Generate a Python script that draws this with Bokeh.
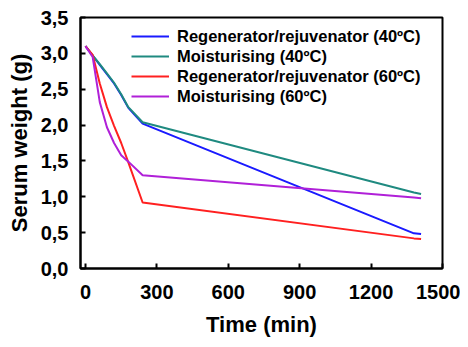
from bokeh.plotting import figure
from bokeh.models import Range1d, FixedTicker, Legend, LegendItem
from bokeh.embed import file_html
from bokeh.resources import INLINE

time = [0, 30, 60, 90, 120, 150, 180, 240, 1380, 1410]
regen40 = [3.10, 2.97, 2.84, 2.71, 2.58, 2.42, 2.24, 2.02, 0.49, 0.48]
moist40 = [3.10, 2.97, 2.85, 2.72, 2.59, 2.43, 2.25, 2.04, 1.06, 1.04]
regen60 = [3.10, 2.98, 2.58, 2.25, 1.99, 1.75, 1.48, 0.92, 0.42, 0.41]
moist60 = [3.10, 2.95, 2.32, 1.97, 1.75, 1.58, 1.49, 1.30, 0.99, 0.98]

labels = ["Regenerator/rejuvenator (40ºC)", "Moisturising (40ºC)",
          "Regenerator/rejuvenator (60ºC)", "Moisturising (60ºC)"]
colors = ["#1a1aff", "#1f8a80", "#ff2020", "#b020d8"]
series = [regen40, moist40, regen60, moist60]

x_ticks = [0, 300, 600, 900, 1200, 1500]
y_ticks = [0.0, 0.5, 1.0, 1.5, 2.0, 2.5, 3.0, 3.5]
y_tick_labels = ["0,0", "0,5", "1,0", "1,5", "2,0", "2,5", "3,0", "3,5"]

FONT = "Liberation Sans"

p = figure(width=460, height=339, output_backend="svg", toolbar_location=None,
           x_range=Range1d(-21, 1500), y_range=Range1d(0, 3.5),
           min_border_left=80, min_border_right=18, min_border_top=17,
           min_border_bottom=59)
p.background_fill_color = "white"
p.border_fill_color = "white"
p.grid.visible = False
p.outline_line_color = "black"
p.outline_line_width = 2

items = []
for ys, c, lab in zip(series, colors, labels):
    r = p.line(time, ys, line_color=c, line_width=2)
    items.append(LegendItem(label=lab, renderers=[r]))

for ax in (p.xaxis[0], p.yaxis[0]):
    ax.axis_line_color = "black"
    ax.axis_line_width = 2
    ax.major_tick_in = 5
    ax.major_tick_out = 0
    ax.major_tick_line_width = 2
    ax.minor_tick_line_color = None
    ax.major_label_text_font = FONT
    ax.major_label_text_font_style = "bold"
    ax.major_label_text_font_size = "20px"
    ax.major_label_text_color = "black"
    ax.axis_label_text_font = FONT
    ax.axis_label_text_font_style = "bold"
    ax.axis_label_text_font_size = "22px"
    ax.axis_label_text_color = "black"

p.xaxis[0].ticker = FixedTicker(ticks=x_ticks)
p.yaxis[0].ticker = FixedTicker(ticks=y_ticks)
p.yaxis[0].major_label_overrides = {t: l for t, l in zip(y_ticks, y_tick_labels)}
p.xaxis[0].axis_label = "Time (min)"
p.yaxis[0].axis_label = "Serum weight (g)"
p.xaxis[0].major_label_standoff = 16
p.yaxis[0].major_label_standoff = 12
p.xaxis[0].axis_label_standoff = 10
p.yaxis[0].axis_label_standoff = 6

legend = Legend(items=items, location=(51, 162))
legend.border_line_color = None
legend.background_fill_alpha = 0
legend.padding = 0
legend.margin = 0
legend.spacing = 0
legend.label_height = 20
legend.glyph_height = 20
legend.glyph_width = 38
legend.label_standoff = 8
legend.label_text_font = FONT
legend.label_text_font_style = "bold"
legend.label_text_font_size = "16.5px"
legend.label_text_color = "black"
p.add_layout(legend, "center")

open("out.html", "w").write(file_html(p, INLINE))
